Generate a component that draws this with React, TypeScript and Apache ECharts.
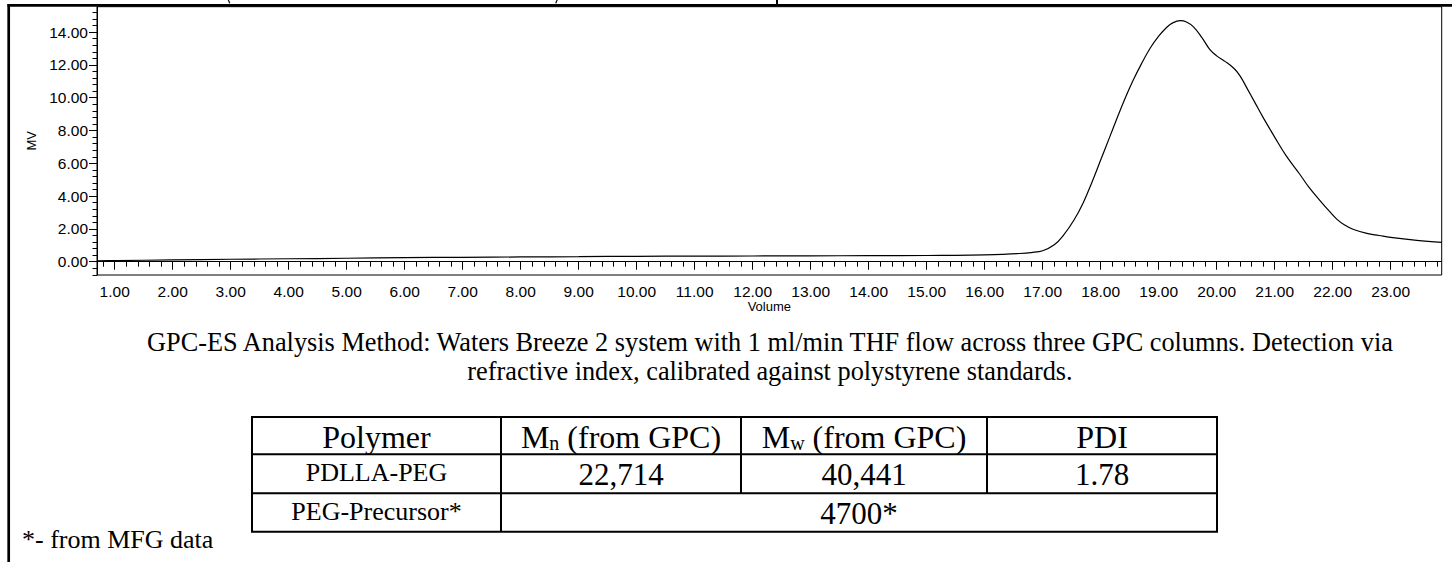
import React, { useEffect, useRef } from "react";
import * as echarts from "echarts";

// ---- Data ----
const volume = [
  0.7, 1, 2, 3, 4, 5, 6, 7, 8, 9, 10, 11, 12, 13, 14, 15, 15.5, 16, 16.3, 16.6,
  16.8, 17.0, 17.2, 17.36, 17.54, 17.7, 17.85, 18.0, 18.15, 18.28, 18.42, 18.56,
  18.7, 18.85, 19.0, 19.14, 19.25, 19.37, 19.48, 19.6, 19.74, 19.88, 20.0, 20.15,
  20.3, 20.4, 20.52, 20.66, 20.8, 21.0, 21.2, 21.43, 21.6, 21.8, 21.95, 22.07,
  22.2, 22.35, 22.59, 22.8, 23.0, 23.45, 23.88,
];
const signal = [
  0.05, 0.07, 0.11, 0.15, 0.18, 0.21, 0.25, 0.27, 0.29, 0.31, 0.33, 0.34, 0.35,
  0.36, 0.37, 0.38, 0.39, 0.42, 0.45, 0.5, 0.56, 0.67, 1.03, 1.62, 2.54, 3.6,
  4.85, 6.2, 7.55, 8.73, 9.95, 11.06, 12.05, 13.0, 13.75, 14.3, 14.58, 14.7,
  14.62, 14.32, 13.7, 12.95, 12.55, 12.2, 11.78, 11.35, 10.6, 9.7, 8.8, 7.6,
  6.45, 5.35, 4.5, 3.65, 3.05, 2.6, 2.25, 1.98, 1.73, 1.6, 1.48, 1.3, 1.18,
];

const xMajorTicks = [1, 2, 3, 4, 5, 6, 7, 8, 9, 10, 11, 12, 13, 14, 15, 16, 17, 18, 19, 20, 21, 22, 23];
const yMajorTicks = [0, 2, 4, 6, 8, 10, 12, 14];
const xMinorTicks = Array.from({ length: 116 }, (_, i) => +(0.8 + i * 0.2).toFixed(1));
const yMinorTicks = Array.from({ length: 41 }, (_, i) => +(-0.8 + i * 0.4).toFixed(1));

const xAxisName = "Volume";
const yAxisName = "MV";

const captionLines = [
  "GPC-ES Analysis Method: Waters Breeze 2 system with 1 ml/min THF flow across three GPC columns. Detection via",
  "refractive index, calibrated against polystyrene standards.",
];

const tableHeader = ["Polymer", "M_n (from GPC)", "M_w (from GPC)", "PDI"];
const tableRowA = ["PDLLA-PEG", "22,714", "40,441", "1.78"];
const tableRowB = ["PEG-Precursor*", "4700*"];
const footnote = "*- from MFG data";

// ---- layout ----
const SERIF = "'Liberation Serif', 'Times New Roman', serif";
const SANS = "'Liberation Sans', Arial, sans-serif";
const colX = [252, 501, 741, 987, 1217];
const rowY = [417, 454.3, 493.3, 531.7];

function headerRich(label: string) {
  const m = label.match(/^(.*)_(\w)(.*)$/);
  if (!m) return `{big|${label}}`;
  return `{big|${m[1]}}{sub|${m[2]}}{big|${m[3]}}`;
}

function textEl(text: string, x: number, y: number, fontSize: number, extra: any = {}) {
  return {
    type: "text",
    x,
    y,
    silent: true,
    style: {
      text,
      fill: "#000",
      fontSize,
      fontFamily: SERIF,
      align: "center",
      verticalAlign: "middle",
      textAlign: "center",
      textVerticalAlign: "middle",
      ...extra,
    },
  };
}

function lineEl(x1: number, y1: number, x2: number, y2: number, w: number, color = "#000") {
  return {
    type: "line",
    silent: true,
    shape: { x1, y1, x2, y2 },
    style: { stroke: color, lineWidth: w },
  };
}

export default function App() {
  const ref = useRef<HTMLDivElement>(null);

  useEffect(() => {
    if (!ref.current) return;
    const chart = echarts.init(ref.current, undefined, { renderer: "svg" });

    const graphics: any[] = [];
    // page/cell borders
    graphics.push(lineEl(7.5, 5.3, 1452, 5.3, 2.7));
    graphics.push(lineEl(8.7, 4, 8.7, 562, 2.7));
    graphics.push(lineEl(777, 0, 777, 5, 2));
    // bottoms of the parentheses of the cell above (cut by the page edge)
    graphics.push(lineEl(228.3, 0, 229.8, 3.2, 1.2));
    graphics.push(lineEl(557.2, 0, 555.7, 3.2, 1.2));

    // caption
    graphics.push(textEl(captionLines[0], 770, 342, 26.3));
    graphics.push(textEl(captionLines[1], 770, 371, 26.3));

    // table borders
    for (const y of rowY) graphics.push(lineEl(colX[0] - 1, y, colX[4] + 1, y, 2));
    graphics.push(lineEl(colX[0], rowY[0], colX[0], rowY[3], 2));
    graphics.push(lineEl(colX[1], rowY[0], colX[1], rowY[3], 2));
    graphics.push(lineEl(colX[2], rowY[0], colX[2], rowY[2], 2));
    graphics.push(lineEl(colX[3], rowY[0], colX[3], rowY[2], 2));
    graphics.push(lineEl(colX[4], rowY[0], colX[4], rowY[3], 2));

    const cx = (i: number) => (colX[i] + colX[i + 1]) / 2;
    const cy = (r: number) => (rowY[r] + rowY[r + 1]) / 2;

    tableHeader.forEach((h, i) => {
      graphics.push(
        textEl(headerRich(h), cx(i), cy(0) + 1.5, 32, {
          rich: {
            big: { fontSize: 32, fontFamily: SERIF, fill: "#000" },
            sub: { fontSize: 20, fontFamily: SERIF, fill: "#000", verticalAlign: "bottom" },
          },
        })
      );
    });
    tableRowA.forEach((t, i) => {
      graphics.push(textEl(t, cx(i), cy(1) + (i === 0 ? -1 : 1), i === 0 ? 26 : 31));
    });
    graphics.push(textEl(tableRowB[0], cx(0), cy(2) - 1, 26));
    graphics.push(textEl(tableRowB[1], (colX[1] + colX[4]) / 2, cy(2) + 1, 31));

    // footnote
    graphics.push(textEl(footnote, 22, 539.5, 26, { align: "left", textAlign: "left" }));

    const axisCommon = {
      type: "value",
      splitLine: { show: false },
      minorTick: { show: false },
    };

    chart.setOption({
      animation: false,
      backgroundColor: "#fff",
      grid: {
        left: 97,
        right: 10.3,
        top: 6.7,
        bottom: 287,
        show: true,
        borderColor: "#000",
        borderWidth: 1,
        containLabel: false,
      },
      xAxis: [
        {
          ...axisCommon,
          min: 0.695,
          max: 23.88,
          position: "bottom",
          axisLine: { show: true, lineStyle: { color: "#000", width: 1 } },
          axisTick: {
            show: true,
            length: 8,
            lineStyle: { color: "#000", width: 1 },
            customValues: xMajorTicks,
          },
          axisLabel: {
            show: true,
            customValues: xMajorTicks,
            formatter: (v: number) => v.toFixed(2),
            color: "#000",
            fontSize: 15.5,
            fontFamily: SANS,
            margin: 8.5,
          },
          name: xAxisName,
          nameLocation: "middle",
          nameGap: 21,
          nameTextStyle: { color: "#000", fontSize: 13, fontFamily: SANS },
        },
        {
          ...axisCommon,
          min: 0.695,
          max: 23.88,
          position: "bottom",
          axisLine: { show: false },
          axisTick: {
            show: true,
            length: 5,
            lineStyle: { color: "#000", width: 1 },
            customValues: xMinorTicks,
          },
          axisLabel: { show: false },
        },
      ],
      yAxis: [
        {
          ...axisCommon,
          min: -0.81,
          max: 15.55,
          position: "left",
          axisLine: { show: true, lineStyle: { color: "#000", width: 1 } },
          axisTick: {
            show: true,
            length: 8,
            lineStyle: { color: "#000", width: 1 },
            customValues: yMajorTicks,
          },
          axisLabel: {
            show: true,
            customValues: yMajorTicks,
            formatter: (v: number) => v.toFixed(2),
            color: "#000",
            fontSize: 15.5,
            fontFamily: SANS,
            margin: 9,
          },
          name: yAxisName,
          nameLocation: "middle",
          nameGap: 55,
          nameTextStyle: { color: "#000", fontSize: 13, fontFamily: SANS },
        },
        {
          ...axisCommon,
          min: -0.81,
          max: 15.55,
          position: "left",
          axisLine: { show: false },
          axisTick: {
            show: true,
            length: 4.5,
            lineStyle: { color: "#000", width: 1 },
            customValues: yMinorTicks,
          },
          axisLabel: { show: false },
        },
      ],
      series: [
        {
          type: "line",
          xAxisIndex: 0,
          yAxisIndex: 0,
          data: volume.map((v, i) => [v, signal[i]]),
          showSymbol: false,
          smooth: 0.4,
          lineStyle: { color: "#000", width: 1.2 },
          clip: true,
        },
      ],
      graphic: { elements: graphics },
    });

    return () => chart.dispose();
  }, []);

  return (
    <div
      ref={ref}
      style={{ position: "absolute", left: 0, top: 0, width: 1452, height: 562, background: "#fff" }}
    />
  );
}
